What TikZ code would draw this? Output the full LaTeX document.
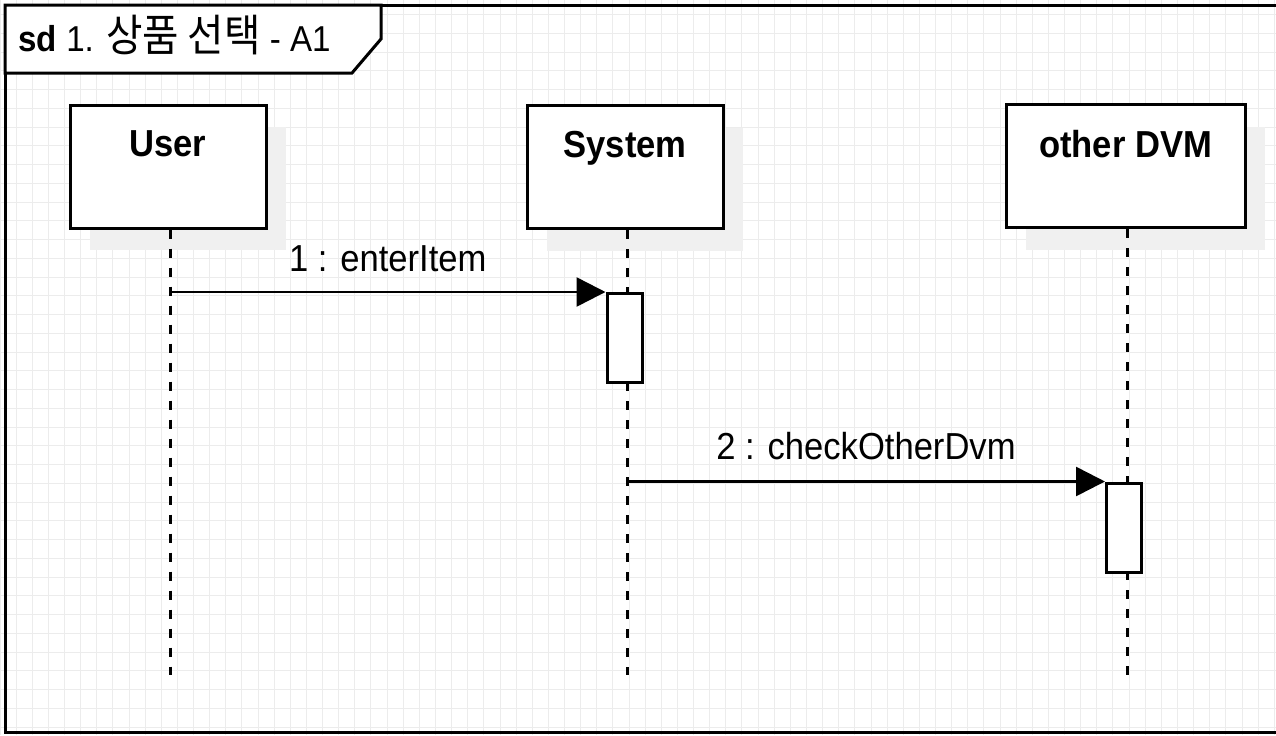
\documentclass[tikz,border=0pt]{standalone}
\usepackage{fontspec}
\setmainfont{Liberation Sans}[FakeStretch=0.92]
\newfontfamily\krfont{Noto Sans CJK KR}[FakeStretch=0.9]
\usetikzlibrary{arrows.meta,positioning,shadows}
\definecolor{gridgray}{RGB}{236,236,236}
\definecolor{shadegray}{RGB}{240,240,240}

\begin{document}
\begin{tikzpicture}[x=0.5pt, y=-0.5pt,
    gridline/.style={draw=gridgray, line width=0.5pt},
    frame/.style={line width=1.5pt},
    lifebox/.style={draw, line width=1.5pt, fill=white, inner sep=0pt,
        minimum width=98pt, minimum height=61.5pt,
        drop shadow={shadow xshift=10pt, shadow yshift=-11pt, fill=shadegray, opacity=1}},
    boxtext/.style={inner sep=0pt, font=\fontsize{18.8}{20}\selectfont\bfseries},
    actbar/.style={draw, line width=1.5pt, fill=white, inner sep=0pt,
        minimum width=17.5pt, minimum height=44.5pt},
    lifeline/.style={line width=1.5pt, dash pattern=on 4.5pt off 5pt},
    msg/.style={line width=1.3pt, -{Triangle[length=14.5pt, width=14.5pt]}},
    msgtext/.style={inner sep=0pt, font=\fontsize{18.8}{20}\selectfont}]
    \useasboundingbox (0,0) rectangle (1276,735);

    % grid
    \begin{scope}
        \clip (0,0) rectangle (1276,735);
        \foreach \i in {0,...,79}
            \draw[gridline] (\i*16.13,0) -- (\i*16.13,735);
        \foreach \j in {0,...,39}
            \draw[gridline] (0,-4.25+\j*18.75) -- (1276,-4.25+\j*18.75);
    \end{scope}

    % frame and title
    \draw[frame] (5,5) rectangle (1282,732);
    \draw[frame, fill=white] (5,5) -- (381,5) -- (381,39) -- (352,73) -- (5,73) -- cycle;
    \node[anchor=base west, inner sep=0pt, font=\fontsize{18}{20}\selectfont] (title) at (18,51)
        {\textbf{sd} 1. {\krfont\fontsize{22}{24}\selectfont 상품 선택} - A1};

    % lifelines
    \node[lifebox] (user) at (168,166.5) {};
    \node[lifebox] (system) at (625,167) {};
    \node[lifebox, minimum width=119.5pt] (dvm) at (1125.5,166) {};
    \node[boxtext, below=13.5pt of user.north] (userlbl) {User};
    \node[boxtext, below=13.5pt of system.north] (systemlbl) {System};
    \node[boxtext, below=13.5pt of dvm.north] (dvmlbl) {other DVM};

    \coordinate (userend) at (170,675);
    \coordinate (systemend) at (627,675);
    \coordinate (dvmend) at (1127,675);
    \draw[lifeline] (user.south -| userend) -- (userend);
    \draw[lifeline] (system.south -| systemend) -- (systemend);
    \draw[lifeline] (dvm.south -| dvmend) -- (dvmend);

    % activations
    \node[actbar] (act1) at (624.5,338) {};
    \node[actbar] (act2) at (1124,527.5) {};

    % messages
    \draw[msg] (userend |- act1.north) -- node[msgtext, above=9.5pt] (msg1) {1 : enterItem} (act1.north west);
    \draw[msg] (systemend |- act2.north) -- node[msgtext, above=10pt] (msg2) {2 : checkOtherDvm} (act2.north west);
\end{tikzpicture}
\end{document}
